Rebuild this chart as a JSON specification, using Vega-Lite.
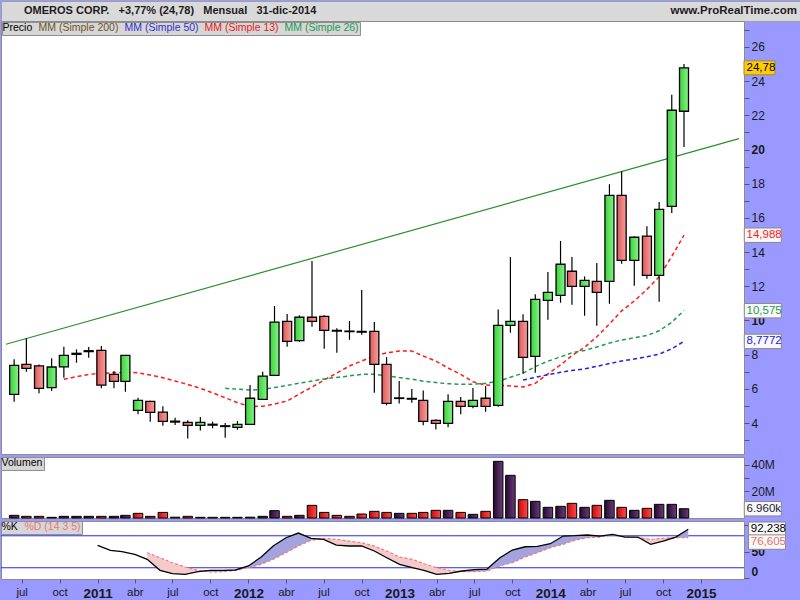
{
 "$schema": "https://vega.github.io/schema/vega-lite/v6.json",
 "background": "#9999ff",
 "padding": 0,
 "spacing": 0,
 "bounds": "flush",
 "config": {
  "font": "Liberation Sans",
  "view": {"stroke": "#8c8c8c", "fill": "#ffffff"},
  "axis": {"grid": false, "domain": false, "labelFont": "Liberation Sans", "labelColor": "#1a1a1a", "tickColor": "#555577", "tickSize": 5, "labelPadding": 2, "labelFontSize": 12, "labelOverlap": false, "labelBound": false},
  "legend": {"labelFont": "Liberation Sans"}
 },
 "datasets": {
  "candles": [
   {"date":"2010-06-01","o":5.68,"h":7.73,"l":5.25,"c":7.38},
   {"date":"2010-07-01","o":7.43,"h":8.96,"l":7.00,"c":7.20},
   {"date":"2010-08-01","o":7.34,"h":7.43,"l":5.74,"c":6.03},
   {"date":"2010-09-01","o":6.07,"h":7.79,"l":5.87,"c":7.28},
   {"date":"2010-10-01","o":7.29,"h":8.46,"l":6.65,"c":7.96},
   {"date":"2010-11-01","o":8.08,"h":8.31,"l":7.53,"c":8.02},
   {"date":"2010-12-01","o":8.18,"h":8.45,"l":7.82,"c":8.23},
   {"date":"2011-01-01","o":8.25,"h":8.51,"l":6.03,"c":6.22},
   {"date":"2011-02-01","o":6.85,"h":7.04,"l":6.03,"c":6.44},
   {"date":"2011-03-01","o":6.44,"h":7.98,"l":5.83,"c":7.96},
   {"date":"2011-04-01","o":4.74,"h":5.48,"l":4.51,"c":5.33},
   {"date":"2011-05-01","o":5.27,"h":5.30,"l":4.08,"c":4.63},
   {"date":"2011-06-01","o":4.64,"h":4.98,"l":3.84,"c":4.10},
   {"date":"2011-07-01","o":4.11,"h":4.31,"l":3.88,"c":4.06},
   {"date":"2011-08-01","o":4.04,"h":4.16,"l":3.10,"c":3.87},
   {"date":"2011-09-01","o":3.87,"h":4.35,"l":3.57,"c":4.04},
   {"date":"2011-10-01","o":3.93,"h":4.08,"l":3.69,"c":3.88},
   {"date":"2011-11-01","o":3.84,"h":4.00,"l":3.14,"c":3.80},
   {"date":"2011-12-01","o":3.75,"h":4.12,"l":3.61,"c":3.92},
   {"date":"2012-01-01","o":3.92,"h":6.22,"l":3.90,"c":5.45},
   {"date":"2012-02-01","o":5.39,"h":7.00,"l":5.37,"c":6.75},
   {"date":"2012-03-01","o":6.79,"h":10.85,"l":6.77,"c":9.91},
   {"date":"2012-04-01","o":9.95,"h":10.38,"l":8.46,"c":8.78},
   {"date":"2012-05-01","o":8.82,"h":10.30,"l":8.76,"c":10.19},
   {"date":"2012-06-01","o":10.19,"h":13.48,"l":9.63,"c":9.95},
   {"date":"2012-07-01","o":10.24,"h":10.30,"l":8.35,"c":9.42},
   {"date":"2012-08-01","o":9.42,"h":9.54,"l":8.11,"c":9.38},
   {"date":"2012-09-01","o":9.38,"h":9.97,"l":8.87,"c":9.35},
   {"date":"2012-10-01","o":9.36,"h":11.78,"l":9.17,"c":9.32},
   {"date":"2012-11-01","o":9.36,"h":9.91,"l":5.77,"c":7.43},
   {"date":"2012-12-01","o":7.43,"h":7.86,"l":5.04,"c":5.15},
   {"date":"2013-01-01","o":5.44,"h":6.46,"l":5.15,"c":5.47},
   {"date":"2013-02-01","o":5.44,"h":5.99,"l":5.19,"c":5.40},
   {"date":"2013-03-01","o":5.33,"h":5.91,"l":3.87,"c":4.10},
   {"date":"2013-04-01","o":4.16,"h":4.22,"l":3.63,"c":3.98},
   {"date":"2013-05-01","o":3.98,"h":5.68,"l":3.75,"c":5.27},
   {"date":"2013-06-01","o":5.27,"h":5.52,"l":4.51,"c":4.98},
   {"date":"2013-07-01","o":4.98,"h":6.05,"l":4.86,"c":5.33},
   {"date":"2013-08-01","o":5.45,"h":6.16,"l":4.66,"c":4.98},
   {"date":"2013-09-01","o":5.04,"h":10.65,"l":4.95,"c":9.72},
   {"date":"2013-10-01","o":9.72,"h":13.71,"l":9.28,"c":9.95},
   {"date":"2013-11-01","o":9.95,"h":10.36,"l":6.89,"c":7.84},
   {"date":"2013-12-01","o":7.90,"h":11.53,"l":6.94,"c":11.24},
   {"date":"2014-01-01","o":11.18,"h":12.84,"l":10.05,"c":11.65},
   {"date":"2014-02-01","o":11.47,"h":14.65,"l":11.04,"c":13.29},
   {"date":"2014-03-01","o":12.88,"h":13.71,"l":10.92,"c":12.00},
   {"date":"2014-04-01","o":12.00,"h":12.58,"l":10.28,"c":12.35},
   {"date":"2014-05-01","o":12.29,"h":13.36,"l":9.69,"c":11.65},
   {"date":"2014-06-01","o":12.29,"h":17.97,"l":10.98,"c":17.32},
   {"date":"2014-07-01","o":17.32,"h":18.73,"l":13.32,"c":13.52},
   {"date":"2014-08-01","o":13.52,"h":14.93,"l":12.03,"c":14.87},
   {"date":"2014-09-01","o":14.93,"h":15.51,"l":12.44,"c":12.64},
   {"date":"2014-10-01","o":12.64,"h":16.93,"l":11.10,"c":16.50},
   {"date":"2014-11-01","o":16.68,"h":23.21,"l":16.29,"c":22.30},
   {"date":"2014-12-01","o":22.24,"h":25.00,"l":20.15,"c":24.78}
  ],
  "vol": [
   {"date":"2010-06-01","vol":2000000,"dir":"up"},
   {"date":"2010-07-01","vol":1250000,"dir":"down"},
   {"date":"2010-08-01","vol":1250000,"dir":"down"},
   {"date":"2010-09-01","vol":500000,"dir":"up"},
   {"date":"2010-10-01","vol":1250000,"dir":"up"},
   {"date":"2010-11-01","vol":1250000,"dir":"up"},
   {"date":"2010-12-01","vol":1250000,"dir":"up"},
   {"date":"2011-01-01","vol":1250000,"dir":"down"},
   {"date":"2011-02-01","vol":1250000,"dir":"up"},
   {"date":"2011-03-01","vol":2000000,"dir":"up"},
   {"date":"2011-04-01","vol":3500000,"dir":"down"},
   {"date":"2011-05-01","vol":1250000,"dir":"down"},
   {"date":"2011-06-01","vol":4200000,"dir":"down"},
   {"date":"2011-07-01","vol":600000,"dir":"down"},
   {"date":"2011-08-01","vol":1250000,"dir":"down"},
   {"date":"2011-09-01","vol":500000,"dir":"up"},
   {"date":"2011-10-01","vol":500000,"dir":"down"},
   {"date":"2011-11-01","vol":500000,"dir":"down"},
   {"date":"2011-12-01","vol":500000,"dir":"up"},
   {"date":"2012-01-01","vol":600000,"dir":"up"},
   {"date":"2012-02-01","vol":1250000,"dir":"up"},
   {"date":"2012-03-01","vol":5500000,"dir":"up"},
   {"date":"2012-04-01","vol":1250000,"dir":"down"},
   {"date":"2012-05-01","vol":2000000,"dir":"up"},
   {"date":"2012-06-01","vol":9500000,"dir":"down"},
   {"date":"2012-07-01","vol":4200000,"dir":"down"},
   {"date":"2012-08-01","vol":2000000,"dir":"down"},
   {"date":"2012-09-01","vol":1250000,"dir":"down"},
   {"date":"2012-10-01","vol":3000000,"dir":"down"},
   {"date":"2012-11-01","vol":5000000,"dir":"down"},
   {"date":"2012-12-01","vol":4200000,"dir":"down"},
   {"date":"2013-01-01","vol":3500000,"dir":"up"},
   {"date":"2013-02-01","vol":3500000,"dir":"down"},
   {"date":"2013-03-01","vol":4200000,"dir":"down"},
   {"date":"2013-04-01","vol":5750000,"dir":"down"},
   {"date":"2013-05-01","vol":5750000,"dir":"up"},
   {"date":"2013-06-01","vol":4200000,"dir":"down"},
   {"date":"2013-07-01","vol":2750000,"dir":"up"},
   {"date":"2013-08-01","vol":5000000,"dir":"down"},
   {"date":"2013-09-01","vol":42500000,"dir":"up"},
   {"date":"2013-10-01","vol":32000000,"dir":"up"},
   {"date":"2013-11-01","vol":13750000,"dir":"down"},
   {"date":"2013-12-01","vol":12500000,"dir":"up"},
   {"date":"2014-01-01","vol":8000000,"dir":"up"},
   {"date":"2014-02-01","vol":8750000,"dir":"up"},
   {"date":"2014-03-01","vol":11000000,"dir":"down"},
   {"date":"2014-04-01","vol":8000000,"dir":"up"},
   {"date":"2014-05-01","vol":9500000,"dir":"down"},
   {"date":"2014-06-01","vol":13250000,"dir":"up"},
   {"date":"2014-07-01","vol":8000000,"dir":"down"},
   {"date":"2014-08-01","vol":5750000,"dir":"up"},
   {"date":"2014-09-01","vol":7250000,"dir":"down"},
   {"date":"2014-10-01","vol":10250000,"dir":"up"},
   {"date":"2014-11-01","vol":10250000,"dir":"up"},
   {"date":"2014-12-01","vol":6960000,"dir":"up"}
  ],
  "ma": [
   {"date":"2010-10-01","s":"MM (Simple 13)","v":6.56},
   {"date":"2010-11-01","s":"MM (Simple 13)","v":6.71},
   {"date":"2010-12-01","s":"MM (Simple 13)","v":6.85},
   {"date":"2011-01-01","s":"MM (Simple 13)","v":6.91},
   {"date":"2011-02-01","s":"MM (Simple 13)","v":6.94},
   {"date":"2011-03-01","s":"MM (Simple 13)","v":6.97},
   {"date":"2011-04-01","s":"MM (Simple 13)","v":6.94},
   {"date":"2011-05-01","s":"MM (Simple 13)","v":6.81},
   {"date":"2011-06-01","s":"MM (Simple 13)","v":6.65},
   {"date":"2011-07-01","s":"MM (Simple 13)","v":6.46},
   {"date":"2011-08-01","s":"MM (Simple 13)","v":6.26},
   {"date":"2011-09-01","s":"MM (Simple 13)","v":6.03},
   {"date":"2011-10-01","s":"MM (Simple 13)","v":5.77},
   {"date":"2011-11-01","s":"MM (Simple 13)","v":5.48},
   {"date":"2011-12-01","s":"MM (Simple 13)","v":5.19},
   {"date":"2012-01-01","s":"MM (Simple 13)","v":4.97},
   {"date":"2012-02-01","s":"MM (Simple 13)","v":4.98},
   {"date":"2012-03-01","s":"MM (Simple 13)","v":5.11},
   {"date":"2012-04-01","s":"MM (Simple 13)","v":5.29},
   {"date":"2012-05-01","s":"MM (Simple 13)","v":5.70},
   {"date":"2012-06-01","s":"MM (Simple 13)","v":6.11},
   {"date":"2012-07-01","s":"MM (Simple 13)","v":6.52},
   {"date":"2012-08-01","s":"MM (Simple 13)","v":6.93},
   {"date":"2012-09-01","s":"MM (Simple 13)","v":7.34},
   {"date":"2012-10-01","s":"MM (Simple 13)","v":7.63},
   {"date":"2012-11-01","s":"MM (Simple 13)","v":7.92},
   {"date":"2012-12-01","s":"MM (Simple 13)","v":8.10},
   {"date":"2013-01-01","s":"MM (Simple 13)","v":8.21},
   {"date":"2013-02-01","s":"MM (Simple 13)","v":8.21},
   {"date":"2013-03-01","s":"MM (Simple 13)","v":7.92},
   {"date":"2013-04-01","s":"MM (Simple 13)","v":7.63},
   {"date":"2013-05-01","s":"MM (Simple 13)","v":7.22},
   {"date":"2013-06-01","s":"MM (Simple 13)","v":6.85},
   {"date":"2013-07-01","s":"MM (Simple 13)","v":6.42},
   {"date":"2013-08-01","s":"MM (Simple 13)","v":6.22},
   {"date":"2013-09-01","s":"MM (Simple 13)","v":6.21},
   {"date":"2013-10-01","s":"MM (Simple 13)","v":6.17},
   {"date":"2013-11-01","s":"MM (Simple 13)","v":6.11},
   {"date":"2013-12-01","s":"MM (Simple 13)","v":6.32},
   {"date":"2014-01-01","s":"MM (Simple 13)","v":6.88},
   {"date":"2014-02-01","s":"MM (Simple 13)","v":7.40},
   {"date":"2014-03-01","s":"MM (Simple 13)","v":7.95},
   {"date":"2014-04-01","s":"MM (Simple 13)","v":8.43},
   {"date":"2014-05-01","s":"MM (Simple 13)","v":9.05},
   {"date":"2014-06-01","s":"MM (Simple 13)","v":9.80},
   {"date":"2014-07-01","s":"MM (Simple 13)","v":10.56},
   {"date":"2014-08-01","s":"MM (Simple 13)","v":11.14},
   {"date":"2014-09-01","s":"MM (Simple 13)","v":11.82},
   {"date":"2014-10-01","s":"MM (Simple 13)","v":12.56},
   {"date":"2014-11-01","s":"MM (Simple 13)","v":13.75},
   {"date":"2014-12-01","s":"MM (Simple 13)","v":14.988},
   {"date":"2011-11-01","s":"MM (Simple 26)","v":6.03},
   {"date":"2011-12-01","s":"MM (Simple 26)","v":5.98},
   {"date":"2012-01-01","s":"MM (Simple 26)","v":5.93},
   {"date":"2012-02-01","s":"MM (Simple 26)","v":5.97},
   {"date":"2012-03-01","s":"MM (Simple 26)","v":6.08},
   {"date":"2012-04-01","s":"MM (Simple 26)","v":6.20},
   {"date":"2012-05-01","s":"MM (Simple 26)","v":6.33},
   {"date":"2012-06-01","s":"MM (Simple 26)","v":6.46},
   {"date":"2012-07-01","s":"MM (Simple 26)","v":6.58},
   {"date":"2012-08-01","s":"MM (Simple 26)","v":6.67},
   {"date":"2012-09-01","s":"MM (Simple 26)","v":6.76},
   {"date":"2012-10-01","s":"MM (Simple 26)","v":6.85},
   {"date":"2012-11-01","s":"MM (Simple 26)","v":6.85},
   {"date":"2012-12-01","s":"MM (Simple 26)","v":6.77},
   {"date":"2013-01-01","s":"MM (Simple 26)","v":6.66},
   {"date":"2013-02-01","s":"MM (Simple 26)","v":6.57},
   {"date":"2013-03-01","s":"MM (Simple 26)","v":6.45},
   {"date":"2013-04-01","s":"MM (Simple 26)","v":6.37},
   {"date":"2013-05-01","s":"MM (Simple 26)","v":6.30},
   {"date":"2013-06-01","s":"MM (Simple 26)","v":6.27},
   {"date":"2013-07-01","s":"MM (Simple 26)","v":6.27},
   {"date":"2013-08-01","s":"MM (Simple 26)","v":6.32},
   {"date":"2013-09-01","s":"MM (Simple 26)","v":6.45},
   {"date":"2013-10-01","s":"MM (Simple 26)","v":6.68},
   {"date":"2013-11-01","s":"MM (Simple 26)","v":6.92},
   {"date":"2013-12-01","s":"MM (Simple 26)","v":7.30},
   {"date":"2014-01-01","s":"MM (Simple 26)","v":7.62},
   {"date":"2014-02-01","s":"MM (Simple 26)","v":7.87},
   {"date":"2014-03-01","s":"MM (Simple 26)","v":8.11},
   {"date":"2014-04-01","s":"MM (Simple 26)","v":8.25},
   {"date":"2014-05-01","s":"MM (Simple 26)","v":8.45},
   {"date":"2014-06-01","s":"MM (Simple 26)","v":8.68},
   {"date":"2014-07-01","s":"MM (Simple 26)","v":8.86},
   {"date":"2014-08-01","s":"MM (Simple 26)","v":8.99},
   {"date":"2014-09-01","s":"MM (Simple 26)","v":9.12},
   {"date":"2014-10-01","s":"MM (Simple 26)","v":9.40},
   {"date":"2014-11-01","s":"MM (Simple 26)","v":9.90},
   {"date":"2014-12-01","s":"MM (Simple 26)","v":10.575},
   {"date":"2013-11-01","s":"MM (Simple 50)","v":6.52},
   {"date":"2013-12-01","s":"MM (Simple 50)","v":6.67},
   {"date":"2014-01-01","s":"MM (Simple 50)","v":6.83},
   {"date":"2014-02-01","s":"MM (Simple 50)","v":6.97},
   {"date":"2014-03-01","s":"MM (Simple 50)","v":7.08},
   {"date":"2014-04-01","s":"MM (Simple 50)","v":7.17},
   {"date":"2014-05-01","s":"MM (Simple 50)","v":7.32},
   {"date":"2014-06-01","s":"MM (Simple 50)","v":7.48},
   {"date":"2014-07-01","s":"MM (Simple 50)","v":7.63},
   {"date":"2014-08-01","s":"MM (Simple 50)","v":7.75},
   {"date":"2014-09-01","s":"MM (Simple 50)","v":7.88},
   {"date":"2014-10-01","s":"MM (Simple 50)","v":8.03},
   {"date":"2014-11-01","s":"MM (Simple 50)","v":8.35},
   {"date":"2014-12-01","s":"MM (Simple 50)","v":8.7772}
  ],
  "stoch": [
   {"date":"2011-01-01","k":62.0,"d":null},
   {"date":"2011-02-01","k":52.7,"d":null},
   {"date":"2011-03-01","k":50.1,"d":null},
   {"date":"2011-04-01","k":45.2,"d":null},
   {"date":"2011-05-01","k":35.8,"d":48.2},
   {"date":"2011-06-01","k":15.2,"d":38.8},
   {"date":"2011-07-01","k":8.8,"d":29.4},
   {"date":"2011-08-01","k":7.7,"d":21.4},
   {"date":"2011-09-01","k":12.6,"d":15.2},
   {"date":"2011-10-01","k":15.2,"d":12.0},
   {"date":"2011-11-01","k":15.2,"d":12.6},
   {"date":"2011-12-01","k":15.8,"d":15.2},
   {"date":"2012-01-01","k":23.3,"d":20.1},
   {"date":"2012-02-01","k":40.1,"d":26.4},
   {"date":"2012-03-01","k":60.8,"d":35.8},
   {"date":"2012-04-01","k":76.3,"d":48.2},
   {"date":"2012-05-01","k":85.1,"d":60.8},
   {"date":"2012-06-01","k":75.2,"d":71.4},
   {"date":"2012-07-01","k":73.3,"d":75.2},
   {"date":"2012-08-01","k":62.6,"d":73.3},
   {"date":"2012-09-01","k":60.8,"d":70.1},
   {"date":"2012-10-01","k":60.8,"d":66.9},
   {"date":"2012-11-01","k":51.4,"d":60.8},
   {"date":"2012-12-01","k":38.8,"d":51.4},
   {"date":"2013-01-01","k":26.4,"d":40.1},
   {"date":"2013-02-01","k":20.1,"d":35.8},
   {"date":"2013-03-01","k":15.2,"d":27.6},
   {"date":"2013-04-01","k":7.7,"d":20.1},
   {"date":"2013-05-01","k":9.6,"d":15.2},
   {"date":"2013-06-01","k":13.9,"d":12.6},
   {"date":"2013-07-01","k":16.3,"d":12.6},
   {"date":"2013-08-01","k":17.6,"d":13.9},
   {"date":"2013-09-01","k":38.8,"d":23.3},
   {"date":"2013-10-01","k":53.3,"d":29.4},
   {"date":"2013-11-01","k":59.4,"d":40.1},
   {"date":"2013-12-01","k":60.2,"d":48.2},
   {"date":"2014-01-01","k":65.1,"d":57.6},
   {"date":"2014-02-01","k":79.5,"d":63.9},
   {"date":"2014-03-01","k":80.1,"d":71.4},
   {"date":"2014-04-01","k":81.4,"d":76.3},
   {"date":"2014-05-01","k":79.5,"d":77.6},
   {"date":"2014-06-01","k":82.7,"d":81.4},
   {"date":"2014-07-01","k":77.6,"d":78.2},
   {"date":"2014-08-01","k":77.6,"d":76.3},
   {"date":"2014-09-01","k":63.9,"d":73.3},
   {"date":"2014-10-01","k":70.1,"d":75.2},
   {"date":"2014-11-01","k":77.6,"d":76.3},
   {"date":"2014-12-01","k":92.238,"d":76.605}
  ]
 },
 "vconcat": [
  {
   "width": 800,
   "height": 20,
   "view": {"fill": "#d9d9d9", "stroke": "#a0a0a0"},
   "layer": [
    {
     "data": {"values": [{"t": "OMEROS CORP.\u00a0\u00a0\u00a0+3,77% (24,78)\u00a0\u00a0\u00a0Mensual\u00a0\u00a0\u00a031-dic-2014"}]},
     "mark": {"type": "text", "align": "left", "baseline": "middle", "dx": 23, "fontSize": 11, "fontWeight": "bold", "color": "#1c1c1c"},
     "encoding": {"text": {"field": "t"}, "x": {"datum": 0, "type": "quantitative", "scale": {"domain": [0, 1], "nice": false}, "axis": null}}
    },
    {
     "data": {"values": [{"t": "www.ProRealTime.com"}]},
     "mark": {"type": "text", "align": "right", "baseline": "middle", "dx": -4, "fontSize": 11.5, "fontWeight": "bold", "color": "#1c1c1c"},
     "encoding": {"text": {"field": "t"}, "x": {"datum": 1, "type": "quantitative", "scale": {"domain": [0, 1], "nice": false}, "axis": null}}
    }
   ]
  },
  {
   "spacing": 3,
   "bounds": "flush",
   "resolve": {"scale": {"x": "independent", "y": "independent", "color": "independent", "stroke": "independent"}, "legend": {"color": "independent", "stroke": "independent"}},
   "vconcat": [
    {
     "width": 743,
     "height": 433,
     "encoding": {
      "x": {"field": "date", "type": "temporal",
       "scale": {"type": "utc", "domain": [{"year": 2010, "month": 5, "date": 12, "utc": true}, {"year": 2015, "month": 4, "date": 15, "utc": true}]},
       "axis": null}
     },
     "layer": [
      {
       "data": {"values": [{"date": "2010-05-12", "v": 8.61}, {"date": "2015-04-15", "v": 20.64}]},
       "mark": {"type": "line", "color": "#2a902a", "strokeWidth": 1.2},
       "encoding": {"y": {"field": "v", "type": "quantitative", "scale": {"domain": [2.19, 27.52], "nice": false, "zero": false},
        "axis": {"orient": "right", "title": null, "tickCount": 60, "format": "d", "values": [3,4,5,6,7,8,9,10,11,12,13,14,15,16,17,18,19,20,21,22,23,24,25,26,27], "labelExpr": "datum.value % 2 == 0 ? datum.label : ''", "labelFontWeight": {"condition": {"test": "datum.value == 10 || datum.value == 20", "value": "bold"}, "value": "normal"}, "tickSize": 5, "labelPadding": 2, "labelOverlap": false}}}
      },
      {
       "data": {"name": "ma"},
       "mark": {"type": "line", "strokeDash": [4, 3], "strokeWidth": 1.5},
       "encoding": {
        "y": {"field": "v", "type": "quantitative", "scale": {"domain": [2.19, 27.52], "nice": false, "zero": false}, "title": null},
        "color": {"field": "s", "type": "nominal",
         "scale": {"domain": ["Precio", "MM (Simple 200)", "MM (Simple 50)", "MM (Simple 13)", "MM (Simple 26)"], "range": ["#000000", "#7a5520", "#2222dd", "#ff1a1a", "#1f9a4f"]},
         "legend": {"title": null, "orient": "top-left", "direction": "horizontal", "offset": 1, "padding": 1, "fillColor": "#d6d6d6", "strokeColor": "#8f8f8f", "symbolSize": 0.01, "symbolStrokeWidth": 0, "symbolOpacity": 0, "labelOffset": -11, "columnPadding": 5, "labelFontSize": 10.5, "labelLimit": 300,
          "encode": {"labels": {"update": {"fill": {"signal": "datum.value === 'Precio' ? '#000000' : datum.value === 'MM (Simple 200)' ? '#6e5428' : datum.value === 'MM (Simple 50)' ? '#3030cc' : datum.value === 'MM (Simple 13)' ? '#e82020' : '#229a55'"}}}}}
        }
       }
      },
      {
       "data": {"name": "candles"},
       "mark": {"type": "rule", "color": "#000000", "strokeWidth": 1.2},
       "encoding": {
        "y": {"field": "l", "type": "quantitative", "scale": {"domain": [2.19, 27.52], "nice": false, "zero": false}, "title": null},
        "y2": {"field": "h"}
       }
      },
      {
       "data": {"name": "candles"},
       "transform": [{"filter": "datum.c >= datum.o"}],
       "mark": {"type": "bar", "width": 9, "stroke": "#000000", "strokeWidth": 1.3,
        "fill": {"gradient": "linear", "x1": 0, "y1": 0, "x2": 1, "y2": 0, "stops": [{"offset": 0, "color": "#3bd23b"}, {"offset": 1, "color": "#86f286"}]}},
       "encoding": {
        "y": {"field": "o", "type": "quantitative", "scale": {"domain": [2.19, 27.52], "nice": false, "zero": false}, "title": null},
        "y2": {"field": "c"}
       }
      },
      {
       "data": {"name": "candles"},
       "transform": [{"filter": "datum.c < datum.o"}],
       "mark": {"type": "bar", "width": 9, "stroke": "#000000", "strokeWidth": 1.3,
        "fill": {"gradient": "linear", "x1": 0, "y1": 0, "x2": 1, "y2": 0, "stops": [{"offset": 0, "color": "#e05858"}, {"offset": 1, "color": "#f6a0a0"}]}},
       "encoding": {
        "y": {"field": "o", "type": "quantitative", "scale": {"domain": [2.19, 27.52], "nice": false, "zero": false}, "title": null},
        "y2": {"field": "c"}
       }
      },
      {
       "data": {"values": [{"t": "© ProRealTime.com"}]},
       "mark": {"type": "text", "align": "left", "baseline": "bottom", "dx": 3, "dy": -1, "fontSize": 11, "color": "#1a1a1a"},
       "encoding": {
        "x": {"datum": {"year": 2010, "month": 5, "date": 12, "utc": true}, "type": "temporal", "axis": null},
        "y": {"datum": 2.19, "type": "quantitative", "scale": {"domain": [2.19, 27.52], "nice": false, "zero": false}, "title": null},
        "text": {"field": "t"}
       }
      },
      {
       "data": {"values": [{"date": "2014-12-01", "s": "Precio", "v": 24.78, "t": "24,78"}]},
       "mark": {"type": "point", "shape": "M-1,-0.45L1,-0.45L1,0.45L-1,0.45Z", "size": 961, "filled": true, "fill": "#ffcc00", "stroke": "#a08a40", "strokeWidth": 1, "opacity": 1, "xOffset": 75.5},
       "encoding": {"y": {"field": "v", "type": "quantitative", "scale": {"domain": [2.19, 27.52], "nice": false, "zero": false}, "title": null}}
      },
      {
       "data": {"values": [{"date": "2014-12-01", "s": "MM (Simple 13)", "v": 14.988, "t": "14,988"}, {"date": "2014-12-01", "s": "MM (Simple 26)", "v": 10.575, "t": "10,575"}, {"date": "2014-12-01", "s": "MM (Simple 50)", "v": 8.7772, "t": "8,7772"}]},
       "mark": {"type": "point", "shape": "M-1,-0.39L1,-0.39L1,0.39L-1,0.39Z", "size": 1369, "filled": true, "fill": "#f8f8f8", "stroke": "#8a8a8a", "strokeWidth": 1, "opacity": 1, "xOffset": 78.8},
       "encoding": {"y": {"field": "v", "type": "quantitative", "scale": {"domain": [2.19, 27.52], "nice": false, "zero": false}, "title": null}}
      },
      {
       "data": {"values": [{"date": "2014-12-01", "s": "Precio", "v": 24.78, "t": "24,78"}, {"date": "2014-12-01", "s": "MM (Simple 13)", "v": 14.988, "t": "14,988"}, {"date": "2014-12-01", "s": "MM (Simple 26)", "v": 10.575, "t": "10,575"}, {"date": "2014-12-01", "s": "MM (Simple 50)", "v": 8.7772, "t": "8,7772"}]},
       "mark": {"type": "text", "align": "left", "baseline": "middle", "dx": 62.5, "fontSize": 11.5},
       "encoding": {
        "y": {"field": "v", "type": "quantitative", "scale": {"domain": [2.19, 27.52], "nice": false, "zero": false}, "title": null},
        "text": {"field": "t"},
        "color": {"field": "s", "type": "nominal", "scale": {"domain": ["Precio", "MM (Simple 200)", "MM (Simple 50)", "MM (Simple 13)", "MM (Simple 26)"], "range": ["#000000", "#7a5520", "#2222dd", "#ff1a1a", "#1f9a4f"]}}
       }
      }
     ]
    },
    {
     "width": 743,
     "height": 61,
     "encoding": {
      "x": {"field": "date", "type": "temporal",
       "scale": {"type": "utc", "domain": [{"year": 2010, "month": 5, "date": 12, "utc": true}, {"year": 2015, "month": 4, "date": 15, "utc": true}]},
       "axis": null}
     },
     "layer": [
      {
       "data": {"name": "vol"},
       "transform": [{"filter": "datum.dir == 'up'"}],
       "mark": {"type": "bar", "width": 9.5, "strokeWidth": 1,
        "fill": {"gradient": "linear", "x1": 0, "y1": 0, "x2": 1, "y2": 0, "stops": [{"offset": 0, "color": "#250a2e"}, {"offset": 1, "color": "#6a3c78"}]}},
       "encoding": {
        "y": {"field": "vol", "type": "quantitative", "scale": {"domain": [0, 45750000], "nice": false},
         "axis": {"orient": "right", "title": null, "tickCount": 20, "values": [10000000, 20000000, 30000000, 40000000], "labelExpr": "datum.value == 20000000 || datum.value == 40000000 ? (datum.value / 1000000) + 'M' : ''", "tickSize": 5, "labelPadding": 2}},
        "stroke": {"datum": "Volumen", "type": "nominal", "scale": {"domain": ["Volumen"], "range": ["#000000"]},
         "legend": {"title": null, "orient": "top-left", "direction": "horizontal", "offset": 0, "padding": 1, "fillColor": "#d6d6d6", "strokeColor": "#8f8f8f", "symbolSize": 0.01, "symbolStrokeWidth": 0, "symbolOpacity": 0, "labelOffset": -11, "labelFontSize": 10.5, "labelColor": "#000000"}}
       }
      },
      {
       "data": {"name": "vol"},
       "transform": [{"filter": "datum.dir == 'down'"}],
       "mark": {"type": "bar", "width": 9.5, "strokeWidth": 1,
        "fill": {"gradient": "linear", "x1": 0, "y1": 0, "x2": 1, "y2": 0, "stops": [{"offset": 0, "color": "#c80a0a"}, {"offset": 1, "color": "#ff4a4a"}]}},
       "encoding": {
        "y": {"field": "vol", "type": "quantitative", "scale": {"domain": [0, 45750000], "nice": false}, "title": null},
        "stroke": {"datum": "Volumen", "type": "nominal", "scale": {"domain": ["Volumen"], "range": ["#000000"]}}
       }
      },
      {
       "data": {"values": [{"date": "2014-12-01", "vol": 6960000, "t": "6.960k"}]},
       "mark": {"type": "point", "shape": "M-1,-0.39L1,-0.39L1,0.39L-1,0.39Z", "size": 1369, "filled": true, "fill": "#f8f8f8", "stroke": "#8a8a8a", "strokeWidth": 1, "opacity": 1, "xOffset": 78.8},
       "encoding": {"y": {"field": "vol", "type": "quantitative", "scale": {"domain": [0, 45750000], "nice": false}, "title": null}}
      },
      {
       "data": {"values": [{"date": "2014-12-01", "vol": 6960000, "t": "6.960k"}]},
       "mark": {"type": "text", "align": "left", "baseline": "middle", "dx": 62.5, "fontSize": 11.5, "color": "#1a1a3a"},
       "encoding": {"y": {"field": "vol", "type": "quantitative", "scale": {"domain": [0, 45750000], "nice": false}, "title": null}, "text": {"field": "t"}}
      }
     ]
    },
    {
     "width": 743,
     "height": 58,
     "layer": [
      {
       "data": {"values": [{"lvl": 80}, {"lvl": 20}]},
       "mark": {"type": "rule", "color": "#2a2ae6", "strokeWidth": 1},
       "encoding": {"y": {"field": "lvl", "type": "quantitative", "scale": {"domain": [-1.1, 107.7], "nice": false, "zero": false}, "title": null}}
      },
      {
       "data": {"name": "stoch"},
       "transform": [
        {"filter": "isValid(datum.d)"},
        {"fold": ["k", "d"], "as": ["key", "val"]},
        {"aggregate": [{"op": "max", "field": "val", "as": "hi"}, {"op": "min", "field": "val", "as": "lo"}], "groupby": ["date", "d"]}
       ],
       "mark": {"type": "area", "color": "#a3a3dd", "opacity": 1},
       "encoding": {
        "x": {"field": "date", "type": "temporal", "scale": {"type": "utc", "domain": [{"year": 2010, "month": 5, "date": 12, "utc": true}, {"year": 2015, "month": 4, "date": 15, "utc": true}]}, "title": null},
        "y": {"field": "d", "type": "quantitative", "scale": {"domain": [-1.1, 107.7], "nice": false, "zero": false}, "title": null},
        "y2": {"field": "hi"}
       }
      },
      {
       "data": {"name": "stoch"},
       "transform": [
        {"filter": "isValid(datum.d)"},
        {"fold": ["k", "d"], "as": ["key", "val"]},
        {"aggregate": [{"op": "max", "field": "val", "as": "hi"}, {"op": "min", "field": "val", "as": "lo"}], "groupby": ["date", "d"]}
       ],
       "mark": {"type": "area", "color": "#f6caca", "opacity": 1},
       "encoding": {
        "x": {"field": "date", "type": "temporal", "scale": {"type": "utc", "domain": [{"year": 2010, "month": 5, "date": 12, "utc": true}, {"year": 2015, "month": 4, "date": 15, "utc": true}]}, "title": null},
        "y": {"field": "lo", "type": "quantitative", "scale": {"domain": [-1.1, 107.7], "nice": false, "zero": false}, "title": null},
        "y2": {"field": "d"}
       }
      },
      {
       "data": {"name": "stoch"},
       "transform": [{"filter": "isValid(datum.d)"}],
       "mark": {"type": "line", "strokeDash": [3, 2], "strokeWidth": 1.2},
       "encoding": {
        "x": {"field": "date", "type": "temporal", "scale": {"type": "utc", "domain": [{"year": 2010, "month": 5, "date": 12, "utc": true}, {"year": 2015, "month": 4, "date": 15, "utc": true}]}, "title": null},
        "y": {"field": "d", "type": "quantitative", "scale": {"domain": [-1.1, 107.7], "nice": false, "zero": false}, "title": null},
        "color": {"datum": "%D (14 3 5)", "type": "nominal", "scale": {"domain": ["%K", "%D (14 3 5)"], "range": ["#000000", "#ee7c7c"]}}
       }
      },
      {
       "data": {"name": "stoch"},
       "mark": {"type": "line", "strokeWidth": 1.3},
       "encoding": {
        "x": {"field": "date", "type": "temporal", "scale": {"type": "utc", "domain": [{"year": 2010, "month": 5, "date": 12, "utc": true}, {"year": 2015, "month": 4, "date": 15, "utc": true}]},
         "axis": {"title": null, "orient": "bottom", "tickCount": 40, "values": [
           {"year": 2010, "month": 7, "date": 1, "utc": true}, {"year": 2010, "month": 10, "date": 1, "utc": true},
           {"year": 2011, "month": 1, "date": 1, "utc": true}, {"year": 2011, "month": 4, "date": 1, "utc": true}, {"year": 2011, "month": 7, "date": 1, "utc": true}, {"year": 2011, "month": 10, "date": 1, "utc": true},
           {"year": 2012, "month": 1, "date": 1, "utc": true}, {"year": 2012, "month": 4, "date": 1, "utc": true}, {"year": 2012, "month": 7, "date": 1, "utc": true}, {"year": 2012, "month": 10, "date": 1, "utc": true},
           {"year": 2013, "month": 1, "date": 1, "utc": true}, {"year": 2013, "month": 4, "date": 1, "utc": true}, {"year": 2013, "month": 7, "date": 1, "utc": true}, {"year": 2013, "month": 10, "date": 1, "utc": true},
           {"year": 2014, "month": 1, "date": 1, "utc": true}, {"year": 2014, "month": 4, "date": 1, "utc": true}, {"year": 2014, "month": 7, "date": 1, "utc": true}, {"year": 2014, "month": 10, "date": 1, "utc": true},
           {"year": 2015, "month": 1, "date": 1, "utc": true}],
          "labelExpr": "utcmonth(datum.value) == 0 ? '' + utcyear(datum.value) : (utcmonth(datum.value) == 3 ? 'abr' : (utcmonth(datum.value) == 6 ? 'jul' : 'oct'))",
          "labelFontWeight": {"condition": {"test": "utcmonth(datum.value) == 0", "value": "bold"}, "value": "normal"},
          "labelFontSize": {"condition": {"test": "utcmonth(datum.value) == 0", "value": 13.5}, "value": 11.5},
          "tickSize": 4, "labelPadding": 3, "minExtent": 22, "maxExtent": 22, "labelFlush": false, "labelOverlap": false}},
        "y": {"field": "k", "type": "quantitative", "scale": {"domain": [-1.1, 107.7], "nice": false, "zero": false},
         "axis": {"orient": "right", "title": null, "tickCount": 20, "format": "d", "values": [0, 50, 100], "labelExpr": "datum.value == 100 ? '' : datum.label", "labelFlush": true, "labelFontWeight": "bold", "tickSize": 5, "labelPadding": 2}},
        "color": {"datum": "%K", "type": "nominal", "scale": {"domain": ["%K", "%D (14 3 5)"], "range": ["#000000", "#ee7c7c"]},
         "legend": {"title": null, "orient": "top-left", "direction": "horizontal", "offset": 0, "padding": 1, "fillColor": "#d6d6d6", "strokeColor": "#8f8f8f", "symbolSize": 0.01, "symbolStrokeWidth": 0, "symbolOpacity": 0, "labelOffset": -11, "columnPadding": 6, "labelFontSize": 10.5, "labelLimit": 200,
          "encode": {"labels": {"update": {"fill": {"signal": "datum.value === '%K' ? '#000000' : '#e87878'"}}}}}}
       }
      },
      {
       "data": {"values": [{"date": "2014-12-01", "v": 92.238, "t": "92,238"}]},
       "encoding": {
        "x": {"field": "date", "type": "temporal", "scale": {"type": "utc", "domain": [{"year": 2010, "month": 5, "date": 12, "utc": true}, {"year": 2015, "month": 4, "date": 15, "utc": true}]}, "title": null},
        "y": {"field": "v", "type": "quantitative", "scale": {"domain": [-1.1, 107.7], "nice": false, "zero": false}, "title": null}
       },
       "layer": [
        {"mark": {"type": "point", "shape": "M-1,-0.39L1,-0.39L1,0.39L-1,0.39Z", "size": 1369, "filled": true, "fill": "#f8f8f8", "stroke": "#8a8a8a", "strokeWidth": 1, "opacity": 1, "xOffset": 78.8}},
        {"mark": {"type": "text", "align": "left", "baseline": "middle", "dx": 62.5, "fontSize": 11.5, "color": "#000000"}, "encoding": {"text": {"field": "t"}}}
       ]
      },
      {
       "data": {"values": [{"date": "2014-12-01", "v": 76.605, "t": "76,605"}]},
       "encoding": {
        "x": {"field": "date", "type": "temporal", "scale": {"type": "utc", "domain": [{"year": 2010, "month": 5, "date": 12, "utc": true}, {"year": 2015, "month": 4, "date": 15, "utc": true}]}, "title": null},
        "y": {"field": "v", "type": "quantitative", "scale": {"domain": [-1.1, 107.7], "nice": false, "zero": false}, "title": null}
       },
       "layer": [
        {"mark": {"type": "point", "shape": "M-1,-0.39L1,-0.39L1,0.39L-1,0.39Z", "size": 1369, "filled": true, "fill": "#f8f8f8", "stroke": "#8a8a8a", "strokeWidth": 1, "opacity": 1, "xOffset": 78.8, "yOffset": 4.5}},
        {"mark": {"type": "text", "align": "left", "baseline": "middle", "dx": 62.5, "dy": 4.5, "fontSize": 11.5, "color": "#e87070"}, "encoding": {"text": {"field": "t"}}}
       ]
      }
     ]
    }
   ]
  }
 ],
 "resolve": {"scale": {"x": "independent", "y": "independent", "color": "independent", "stroke": "independent"}, "legend": {"color": "independent", "stroke": "independent"}}
}
